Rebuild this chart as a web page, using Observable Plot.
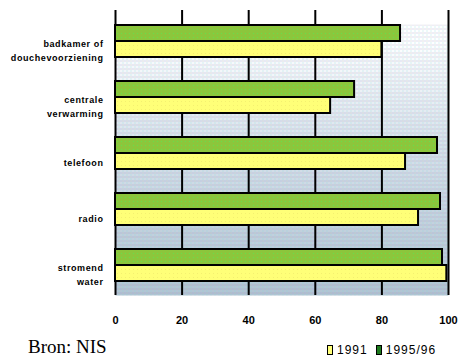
<!DOCTYPE html>
<html><head><meta charset="utf-8">
<script src="https://cdn.jsdelivr.net/npm/d3@7"></script>
<script src="https://cdn.jsdelivr.net/npm/@observablehq/plot@0.6"></script>
<style>
body{margin:0;background:#fff;}
#wrap{position:relative;width:458px;height:358px;overflow:hidden;}
#caption{position:absolute;left:28px;top:337px;font-family:"Liberation Serif",serif;font-size:19px;line-height:19px;white-space:nowrap;}
#legend{position:absolute;left:327px;top:343px;font-family:"Liberation Sans",sans-serif;font-size:12px;line-height:14px;letter-spacing:1px;white-space:nowrap;display:flex;align-items:center;}
#legend .sw{display:inline-block;width:4px;height:8px;border:1px solid #000;margin-right:4px;}
#wrap svg g[aria-label="y-axis tick label"] text{letter-spacing:0.6px;}
</style></head><body><div id="wrap"></div>
<script>
const categories = ["badkamer of\ndouchevoorziening", "centrale\nverwarming", "telefoon", "radio", "stromend\nwater"];
const values1991 = [80, 64.6, 87.1, 91, 99.5];
const values1995 = [85.6, 71.8, 96.7, 97.6, 98.2];
const xTicks = [0, 20, 40, 60, 80, 100];
const seriesLabels = ["1991", "1995/96"];
const seriesColors = ["#ffff78", "#8cc63c"];

const rows1991 = categories.map((c, i) => ({cat: c, v: values1991[i]}));
const rows1995 = categories.map((c, i) => ({cat: c, v: values1995[i]}));

function defs() {
  const g = d3.create("svg:g");
  const d = g.append("defs");
  const lg = d.append("linearGradient").attr("id", "bg").attr("x1", 0).attr("y1", 0).attr("x2", 0).attr("y2", 1);
  lg.append("stop").attr("offset", "0%").attr("stop-color", "#ffffff");
  lg.append("stop").attr("offset", "6%").attr("stop-color", "#ffffff");
  lg.append("stop").attr("offset", "45%").attr("stop-color", "#d8e1ea");
  lg.append("stop").attr("offset", "100%").attr("stop-color", "#b2c3d2");
  const p = d.append("pattern").attr("id", "dots").attr("width", 4).attr("height", 4).attr("patternUnits", "userSpaceOnUse");
  p.append("rect").attr("x", 0).attr("y", 0).attr("width", 1).attr("height", 1).attr("fill", "#8f8fd0");
  p.append("rect").attr("x", 2).attr("y", 2).attr("width", 1).attr("height", 1).attr("fill", "#7fd8e0");
  p.append("rect").attr("x", 2).attr("y", 0).attr("width", 1).attr("height", 1).attr("fill", "#a0a0a0");
  const gp = d.append("pattern").attr("id", "gp").attr("width", 4).attr("height", 4).attr("patternUnits", "userSpaceOnUse");
  gp.append("rect").attr("width", 4).attr("height", 4).attr("fill", seriesColors[1]);
  gp.append("rect").attr("x", 1).attr("y", 1).attr("width", 1).attr("height", 1).attr("fill", "#66e04c");
  const yp = d.append("pattern").attr("id", "yp").attr("width", 4).attr("height", 4).attr("patternUnits", "userSpaceOnUse");
  yp.append("rect").attr("width", 4).attr("height", 4).attr("fill", seriesColors[0]);
  yp.append("rect").attr("x", 1).attr("y", 1).attr("width", 1).attr("height", 1).attr("fill", "#f4f070");
  return g.node();
}

const plot = Plot.plot({
  width: 458,
  height: 358,
  marginLeft: 115,
  marginRight: 10,
  marginTop: 10,
  marginBottom: 63,
  style: {fontFamily: "Liberation Sans, sans-serif", color: "#000", background: "#fff"},
  x: {domain: [0, 100], axis: null},
  y: {type: "band", domain: categories, range: [24, 282], paddingInner: 0.436, paddingOuter: 0, axis: null},
  marks: [
    defs,
    Plot.frame({fill: "url(#bg)", stroke: null, insetTop: 14}),
    Plot.frame({fill: "url(#dots)", fillOpacity: 0.6, stroke: null, insetTop: 14}),
    Plot.ruleX(xTicks, {stroke: "#000", strokeWidth: 2}),
    Plot.barX(rows1995, {x: "v", y: "cat", fill: "url(#gp)", stroke: "#000", strokeWidth: 2, insetBottom: 16}),
    Plot.barX(rows1991, {x: "v", y: "cat", fill: "url(#yp)", stroke: "#000", strokeWidth: 2, insetTop: 16}),
    Plot.axisX({ticks: xTicks, tickSize: 0, tickPadding: 21, fontSize: 11, fontWeight: "bold", label: null}),
    Plot.axisY({tickSize: 0, tickPadding: 12, fontSize: 9, fontWeight: "bold", dy: 8, lineHeight: 1.6, label: null})
  ]
});

const wrap = document.getElementById("wrap");
wrap.appendChild(plot);

const cap = document.createElement("div");
cap.id = "caption";
cap.textContent = "Bron: NIS";
wrap.appendChild(cap);

const leg = document.createElement("div");
leg.id = "legend";
seriesLabels.forEach((s, i) => {
  const sw = document.createElement("span");
  sw.className = "sw";
  sw.style.background = i === 0 ? seriesColors[0] : "#1d7a1d";
  if (i > 0) sw.style.marginLeft = "8px";
  leg.appendChild(sw);
  const t = document.createElement("span");
  t.textContent = s;
  leg.appendChild(t);
});
wrap.appendChild(leg);
</script>
</body></html>
